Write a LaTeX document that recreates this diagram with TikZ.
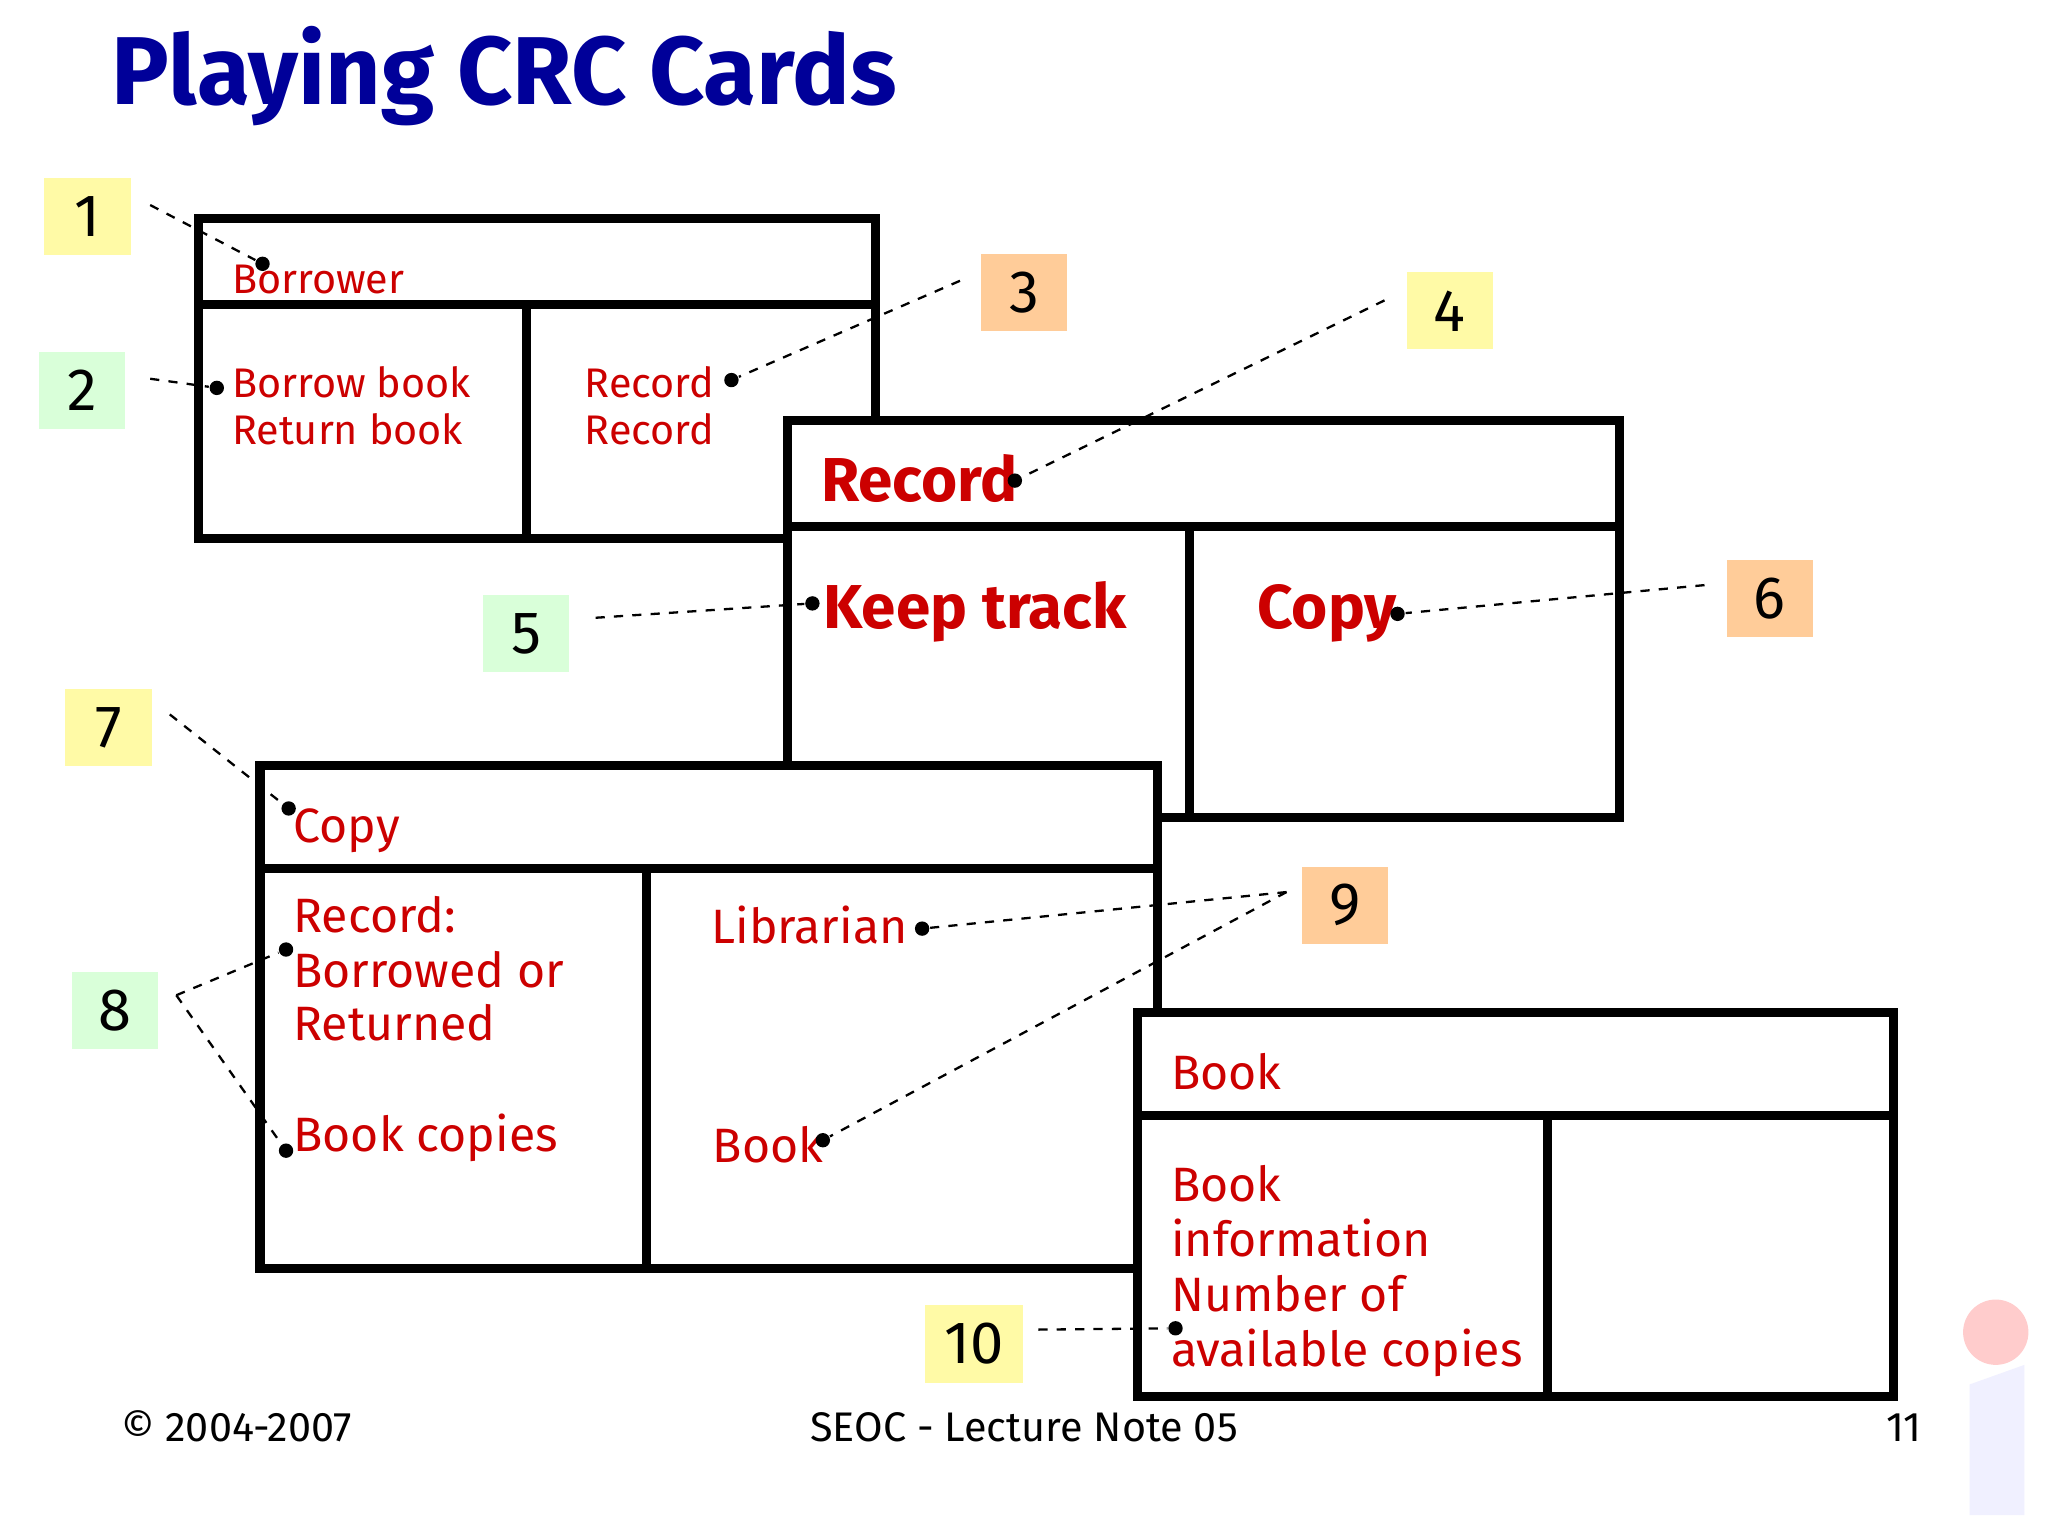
\documentclass[tikz,border=0pt]{standalone}
\usepackage{fontspec}
\setmainfont{Fira Sans}
\begin{document}
\begin{tikzpicture}[x=0.01cm,y=-0.01cm,
  card/.style={draw=black,line width=2pt,fill=white},
  cline/.style={line width=2pt},
  ylw/.style={fill=yellow!35,minimum width=0.66cm,minimum height=0.59cm,font=\fontsize{13}{15}\selectfont},
  grn/.style={fill=green!15,minimum width=0.66cm,minimum height=0.59cm,font=\fontsize{13}{15}\selectfont},
  org/.style={fill=orange!40,minimum width=0.66cm,minimum height=0.59cm,font=\fontsize{13}{15}\selectfont},
  dot/.style={circle,fill=black,inner sep=0pt,minimum size=0.11cm},
  lead/.style={dashed,line width=0.5pt,dash pattern=on 2pt off 2pt},
  t/.style={text=red!80!black,anchor=base west,inner sep=0pt,font=\fontsize{9}{10}\selectfont},
  tm/.style={text=red!80!black,anchor=base west,inner sep=0pt,font=\fontsize{10.5}{12}\selectfont},
  tb/.style={text=red!80!black,anchor=base west,inner sep=0pt,font=\bfseries\fontsize{13.5}{16}\selectfont}]
\useasboundingbox (0,0) rectangle (1568,1174);
\fill[white] (0,0) rectangle (1568,1174);
\node[anchor=base west,inner sep=0pt,text=blue!60!black,font=\bfseries\fontsize{21}{25}\selectfont] (title) at (85,80) {Playing CRC Cards};
% card 1
\draw[card] (152,167) rectangle (670,412);
\draw[cline] (152,233) -- (670,233) (403,233) -- (403,412);
\node[t] (c1n) at (177,225) {Borrower};
\node[t] (c1r1) at (177,304) {Borrow book};
\node[t] (c1r2) at (177,340) {Return book};
\node[t] (c1c1) at (447,304) {Record};
\node[t] (c1c2) at (447,340) {Record};
% card 2
\draw[card] (603,322) rectangle (1240,626);
\draw[cline] (603,403) -- (1240,403) (911,403) -- (911,626);
\node[tb] (c2n) at (628,384) {Record};
\node[tb] (c2r) at (630,481) {Keep track};
\node[tb] (c2c) at (962,481) {Copy};
% card 3
\draw[card] (199,586) rectangle (886,971);
\draw[cline] (199,665) -- (886,665) (495,665) -- (495,971);
\node[tm] (c3n) at (224,645) {Copy};
\node[tm] (c3r1) at (224,714) {Record:};
\node[tm] (c3r2) at (224,756) {Borrowed or};
\node[tm] (c3r3) at (224,797) {Returned};
\node[tm] (c3b) at (224,882) {Book copies};
\node[tm] (c3c) at (544,722) {Librarian};
\node[tm] (c3d) at (545,890) {Book};
% card 4
\draw[card] (871,775) rectangle (1450,1069);
\draw[cline] (871,854) -- (1450,854) (1185,854) -- (1185,1069);
\node[tm] (c4n) at (896,834) {Book};
\node[tm] (c4r1) at (896,920) {Book};
\node[tm] (c4r2) at (896,962) {information};
\node[tm] (c4r3) at (896,1004) {Number of};
\node[tm] (c4r4) at (896,1046) {available copies};
% labels
\node[ylw] (l1) at (67,166) {1};
\node[grn] (l2) at (63,299) {2};
\node[org] (l3) at (784,224) {3};
\node[ylw] (l4) at (1110,238) {4};
\node[grn] (l5) at (403,485) {5};
\node[org] (l6) at (1355,458) {6};
\node[ylw] (l7) at (83,557) {7};
\node[grn] (l8) at (88,774) {8};
\node[org] (l9) at (1030,693) {9};
\node[ylw,minimum width=0.75cm] (l10) at (746,1029) {10};
% dots
\node[dot] (d1) at (201,202) {};
\node[dot] (d2) at (166,297) {};
\node[dot] (d3) at (560,291) {};
\node[dot] (d4) at (777,368) {};
\node[dot] (d5) at (622,462) {};
\node[dot] (d6) at (1070,470) {};
\node[dot] (d7) at (221,619) {};
\node[dot] (d8a) at (219,727) {};
\node[dot] (d8b) at (219,881) {};
\node[dot] (d9a) at (706,711) {};
\node[dot] (d9b) at (630,873) {};
\node[dot] (d10) at (900,1017) {};
\coordinate (e1) at (115,157); \coordinate (e2) at (115,290);
\coordinate (e3) at (735,215); \coordinate (e4) at (1060,230);
\coordinate (e5) at (456,473); \coordinate (e6) at (1305,448);
\coordinate (e7) at (130,547); \coordinate (e8) at (135,762);
\coordinate (e9) at (985,683); \coordinate (e10) at (795,1018);
\draw[lead] (e1) -- (d1); \draw[lead] (e2) -- (d2);
\draw[lead] (e3) -- (d3); \draw[lead] (e4) -- (d4);
\draw[lead] (e5) -- (d5); \draw[lead] (e6) -- (d6);
\draw[lead] (e7) -- (d7);
\draw[lead] (e8) -- (d8a); \draw[lead] (e8) -- (d8b);
\draw[lead] (e9) -- (d9a); \draw[lead] (e9) -- (d9b);
\draw[lead] (e10) -- (d10);
% footer
\node[anchor=base west,inner sep=0pt,font=\fontsize{9}{11}\selectfont] (f1) at (92,1104) {© 2004-2007};
\node[anchor=base,inner sep=0pt,font=\fontsize{9}{11}\selectfont] (f2) at (784,1104) {SEOC - Lecture Note 05};
\node[anchor=base east,inner sep=0pt,font=\fontsize{9}{11}\selectfont] (f3) at (1472,1104) {11};
\fill[red!20] (1528,1020) circle (25);
\fill[blue!6] (1508,1060) -- (1550,1045) -- (1550,1160) -- (1508,1160) -- cycle;
\end{tikzpicture}
\end{document}
